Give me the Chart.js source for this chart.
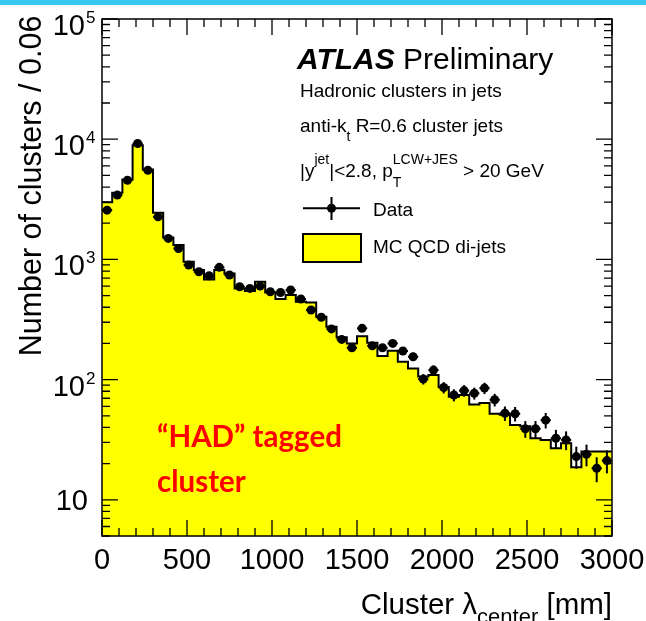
<!DOCTYPE html>
<html><head><meta charset="utf-8">
<script src="https://cdn.jsdelivr.net/npm/chart.js@4.4.1/dist/chart.umd.min.js"></script>
<style>html,body{margin:0;padding:0;background:#fff}canvas{display:block}</style>
</head><body>
<canvas id="c" width="646" height="621"></canvas>
<script>
// ---- data ----
const binEdges = [0,60,120,180,240,300,360,420,480,540,600,660,720,780,840,900,960,1020,1080,1140,1200,1260,1320,1380,1440,1500,1560,1620,1680,1740,1800,1860,1920,1980,2040,2100,2160,2220,2280,2340,2400,2460,2520,2580,2640,2700,2760,2820,2880,2940,3000];
const dataValues = [2570,3430,4560,9200,5520,2260,1496,1233,898,789,731,859,741,592,574,600,538,530,556,468,379,330,264,216,184,267,191,184,200,173,155,101,120,86,74.5,81,77,85,68,52.5,52,39,39,46,32.5,31.5,22.9,23.9,18.3,21.2];
const dataErrors = [51,59,68,96,74,48,39,35,30,28,27,29,27,24,24,24.5,23,23,23.6,21.6,19.5,18.2,16.2,14.7,13.6,16.3,13.8,13.6,14.1,13.2,12.4,10,11,9.3,8.6,9,8.8,9.2,8.2,7.2,7.2,6.2,6.2,6.8,5.7,5.6,4.8,4.9,4.3,4.6];
const mcValues = [2990,3580,4620,8910,5600,2440,1525,1315,955,815,682,815,765,574,545,652,530,468,505,444,437,333,275,225,200,230,203,157,174,141,124,106,109,87,72,74.5,62,64,52,51,42,41,32.5,31.5,26.9,29.5,18.7,25.2,25.2,25.2];
const xTickLabels = ['0','500','1000','1500','2000','2500','3000'];
const xTickValues = [0,500,1000,1500,2000,2500,3000];
const yTickExponents = [1,2,3,4,5];
const xRange = [0,3000];
const yRange = [5,100000];

const FONT = "'Liberation Sans', Arial, Helvetica, sans-serif";
const binCenters = dataValues.map((_, i) => (binEdges[i] + binEdges[i+1]) / 2);
const mcPoints = binEdges.map((e, i) => ({x: e, y: mcValues[Math.min(i, mcValues.length - 1)]}));
const dataPoints = dataValues.map((v, i) => ({x: binCenters[i], y: v}));

function fstr(s){ return (s.style||'') + ' ' + (s.w||'normal') + ' ' + s.size + 'px ' + (s.fam||FONT); }
function richWidth(ctx, segs){
  let w = 0;
  for (const s of segs){
    if (s.stack){ let m=0; for (const p of s.stack){ ctx.font=fstr(p); m=Math.max(m, ctx.measureText(p.t).width);} w+=m; }
    else { ctx.font=fstr(s); w += ctx.measureText(s.t).width; }
  }
  return w;
}
function drawRich(ctx, x, y, segs){
  let cx = x;
  ctx.textAlign = 'left'; ctx.textBaseline = 'alphabetic';
  for (const s of segs){
    if (s.stack){
      let m = 0;
      for (const p of s.stack){ ctx.font=fstr(p); ctx.fillText(p.t, cx, y+(p.dy||0)); m=Math.max(m, ctx.measureText(p.t).width); }
      cx += m;
    } else {
      ctx.font=fstr(s); ctx.fillText(s.t, cx, y+(s.dy||0)); cx += ctx.measureText(s.t).width;
    }
  }
  return cx;
}

const errorBars = {
  id: 'errorBars',
  afterDatasetsDraw(chart){
    const ctx = chart.ctx, xs = chart.scales.x, ys = chart.scales.y;
    ctx.save();
    ctx.strokeStyle = '#000'; ctx.lineWidth = 2;
    dataValues.forEach((v, i) => {
      const px = xs.getPixelForValue(binCenters[i]);
      const py = ys.getPixelForValue(v);
      const t = ys.getPixelForValue(v + dataErrors[i]);
      const b = ys.getPixelForValue(Math.max(v - dataErrors[i], yRange[0]));
      ctx.beginPath(); ctx.moveTo(px, t); ctx.lineTo(px, b); ctx.stroke();
      ctx.beginPath(); ctx.moveTo(xs.getPixelForValue(binEdges[i]), py); ctx.lineTo(xs.getPixelForValue(binEdges[i+1]), py); ctx.stroke();
    });
    ctx.restore();
  }
};

const frame = {
  id: 'frame',
  afterDraw(chart){
    const ctx = chart.ctx, xs = chart.scales.x, ys = chart.scales.y, a = chart.chartArea;
    ctx.save();
    // cyan strip at top
    ctx.fillStyle = '#38c8f4'; ctx.fillRect(0, 0, 646, 5);
    ctx.strokeStyle = '#000'; ctx.lineWidth = 1.5;
    ctx.strokeRect(a.left, a.top, a.right - a.left, a.bottom - a.top);
    ctx.lineWidth = 1.3;
    // x ticks
    for (let v = xRange[0]; v <= xRange[1]; v += 100){
      const px = xs.getPixelForValue(v);
      const len = (v % 500 === 0) ? 16 : 8;
      ctx.beginPath();
      ctx.moveTo(px, a.bottom); ctx.lineTo(px, a.bottom - len);
      ctx.moveTo(px, a.top); ctx.lineTo(px, a.top + len);
      ctx.stroke();
    }
    // y ticks
    for (let e = 0; e <= 5; e++){
      for (let m = 1; m <= 9; m++){
        const v = m * Math.pow(10, e);
        if (v < yRange[0] || v > yRange[1]) continue;
        const py = ys.getPixelForValue(v);
        const len = (m === 1) ? 16 : 8;
        ctx.beginPath();
        ctx.moveTo(a.left, py); ctx.lineTo(a.left + len, py);
        ctx.moveTo(a.right, py); ctx.lineTo(a.right - len, py);
        ctx.stroke();
      }
    }
    ctx.fillStyle = '#000';
    // x tick labels
    ctx.font = '29px ' + FONT; ctx.textAlign = 'center'; ctx.textBaseline = 'alphabetic';
    xTickValues.forEach((v, i) => ctx.fillText(xTickLabels[i], xs.getPixelForValue(v), 569));
    // y tick labels
    yTickExponents.forEach(e => {
      const py = ys.getPixelForValue(Math.pow(10, e));
      ctx.textAlign = 'right';
      ctx.font = '29px ' + FONT;
      if (e === 1){ ctx.fillText('10', 88, py + 10.5); }
      else {
        ctx.fillText('10', 85, py + 16);
        ctx.textAlign = 'left'; ctx.font = '17px ' + FONT;
        ctx.fillText(String(e), 86, py + 4);
      }
    });
    // y title
    ctx.save();
    ctx.translate(41, 186); ctx.rotate(-Math.PI/2);
    ctx.font = '30.5px ' + FONT; ctx.textAlign = 'center';
    ctx.fillText('Number of clusters / 0.06', 0, 0);
    ctx.restore();
    // x title
    const xt = [{t:'Cluster \u03bb', size:29.5}, {t:'center', size:22, dy:10}, {t:' [mm]', size:29.5}];
    drawRich(ctx, 612 - richWidth(ctx, xt), 614, xt);
    // ATLAS label
    drawRich(ctx, 297, 69, [{t:'ATLAS', size:30, w:'bold', style:'italic'}, {t:' Preliminary', size:30}]);
    drawRich(ctx, 300, 97, [{t:'Hadronic clusters in jets', size:19}]);
    drawRich(ctx, 300, 131.5, [{t:'anti-k', size:19}, {t:'t', size:14, dy:9}, {t:' R=0.6 cluster jets', size:19}]);
    drawRich(ctx, 300, 176.5, [{t:'|y', size:19}, {t:'jet', size:14, dy:-13}, {t:'|<2.8, p', size:19},
      {stack:[{t:'T', size:14, dy:10}, {t:'LCW+JES', size:14, dy:-13}]}, {t:' > 20 GeV', size:19}]);
    // legend
    ctx.strokeStyle = '#000'; ctx.lineWidth = 2;
    ctx.beginPath(); ctx.moveTo(303, 208.3); ctx.lineTo(360, 208.3); ctx.moveTo(331.5, 197); ctx.lineTo(331.5, 220); ctx.stroke();
    ctx.beginPath(); ctx.arc(331.5, 208.3, 4.5, 0, Math.PI*2); ctx.fill();
    drawRich(ctx, 373, 215.5, [{t:'Data', size:19}]);
    ctx.fillStyle = '#ffff00'; ctx.fillRect(303, 234, 58, 28);
    ctx.strokeRect(303, 234, 58, 28);
    ctx.fillStyle = '#000';
    drawRich(ctx, 373, 252.5, [{t:'MC QCD di-jets', size:19}]);
    // HAD tagged annotation
    ctx.fillStyle = '#ff0000';
    ctx.font = "bold 29.5px Lato, 'Open Sans', sans-serif"; ctx.textAlign = 'left';
    ctx.fillText('\u201cHAD\u201d tagged', 157, 447);
    ctx.fillText('cluster', 157, 492);
    ctx.restore();
  }
};

new Chart(document.getElementById('c'), {
  type: 'scatter',
  data: {
    datasets: [
      { type: 'line', label: 'MC QCD di-jets', data: mcPoints, stepped: true, fill: 'start',
        backgroundColor: '#ffff00', borderColor: '#000', borderWidth: 2, pointRadius: 0, order: 2 },
      { type: 'scatter', label: 'Data', data: dataPoints, pointRadius: 4.5, pointHoverRadius: 4.5,
        backgroundColor: '#000', borderColor: '#000', borderWidth: 0, showLine: false, order: 1 }
    ]
  },
  options: {
    responsive: false, animation: false,
    layout: { padding: { left: 102, top: 19, right: 34, bottom: 85 } },
    plugins: { legend: { display: false }, tooltip: { enabled: false }, title: { display: false } },
    scales: {
      x: { type: 'linear', min: xRange[0], max: xRange[1], display: false },
      y: { type: 'logarithmic', min: yRange[0], max: yRange[1], display: false }
    }
  },
  plugins: [errorBars, frame]
});
</script>
</body></html>
